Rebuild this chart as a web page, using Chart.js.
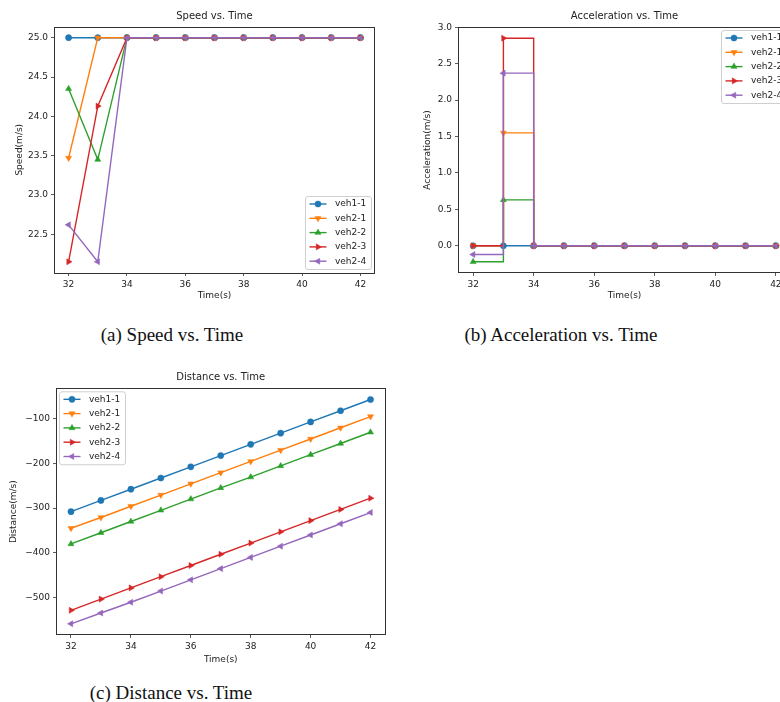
<!DOCTYPE html>
<html>
<head>
<meta charset="utf-8">
<script src="https://cdn.jsdelivr.net/npm/chart.js@4.4.0/dist/chart.umd.min.js"></script>
<style>
  html, body { margin: 0; padding: 0; background: #fff; overflow: hidden; }
  body { width: 780px; height: 702px; position: relative; }
  .panel { position: absolute; }
  .panel canvas { display: block; }
  .cap { position: absolute; width: 240px; font-family: "Liberation Serif", serif; font-size: 19px;
         line-height: 20px; color: #111; text-align: center; white-space: nowrap; }
</style>
</head>
<body>
<div class="panel" style="left:0;top:0"><canvas id="speed" width="390" height="320"></canvas></div>
<div class="panel" style="left:390px;top:0"><canvas id="accel" width="410" height="320"></canvas></div>
<div class="panel" style="left:0;top:360px"><canvas id="dist" width="390" height="320"></canvas></div>
<div class="cap" style="left:52px;top:325px">(a) Speed vs. Time</div>
<div class="cap" style="left:441px;top:325px">(b) Acceleration vs. Time</div>
<div class="cap" style="left:51px;top:683px">(c) Distance vs. Time</div>
<script>
// time axis and vehicles
const times = [32, 33, 34, 35, 36, 37, 38, 39, 40, 41, 42];
const timeTicks = [32, 34, 36, 38, 40, 42];
const vehicles = ['veh1-1', 'veh2-1', 'veh2-2', 'veh2-3', 'veh2-4'];

// speed (m/s)
const speedVeh11 = [25.0, 25.0, 25.0, 25.0, 25.0, 25.0, 25.0, 25.0, 25.0, 25.0, 25.0];
const speedVeh21 = [23.47, 25.0, 25.0, 25.0, 25.0, 25.0, 25.0, 25.0, 25.0, 25.0, 25.0];
const speedVeh22 = [24.35, 23.45, 25.0, 25.0, 25.0, 25.0, 25.0, 25.0, 25.0, 25.0, 25.0];
const speedVeh23 = [22.15, 24.13, 25.0, 25.0, 25.0, 25.0, 25.0, 25.0, 25.0, 25.0, 25.0];
const speedVeh24 = [22.62, 22.15, 25.0, 25.0, 25.0, 25.0, 25.0, 25.0, 25.0, 25.0, 25.0];
const speedTicks = [22.5, 23.0, 23.5, 24.0, 24.5, 25.0];

// acceleration
const accVeh11 = [0, 0, 0, 0, 0, 0, 0, 0, 0, 0, 0];
const accVeh21 = [0, 1.55, 0, 0, 0, 0, 0, 0, 0, 0, 0];
const accVeh22 = [-0.22, 0.63, 0, 0, 0, 0, 0, 0, 0, 0, 0];
const accVeh23 = [0, 2.85, 0, 0, 0, 0, 0, 0, 0, 0, 0];
const accVeh24 = [-0.12, 2.37, 0, 0, 0, 0, 0, 0, 0, 0, 0];
const accTicks = [0.0, 0.5, 1.0, 1.5, 2.0, 2.5, 3.0];

// distance
const distVeh11 = [-308, -283, -258, -233, -208, -183, -158, -133, -108, -83, -58];
const distVeh21 = [-345, -321, -296, -271, -246, -221, -196, -171, -146, -121, -96];
const distVeh22 = [-380, -355, -330, -305, -280, -255, -231, -206, -181, -156, -131];
const distVeh23 = [-528, -503, -478, -453, -428, -403, -378, -353, -328, -303, -278];
const distVeh24 = [-558, -534, -510, -485, -460, -435, -410, -385, -360, -335, -310];
const distTicks = [-500, -400, -300, -200, -100];

const colors = ['#1f77b4', '#ff7f0e', '#2ca02c', '#d62728', '#9467bd'];
const markers = [['circle', 0], ['triangle', 180], ['triangle', 0], ['triangle', 90], ['triangle', 270]];
const FONT = 'DejaVu Sans';
const TXT = '#222';

// matplotlib-ish frame, legend and title
const mplDecor = {
  id: 'mplDecor',
  afterDatasetsDraw(chart, args, opts) {
    const ctx = chart.ctx, a = chart.chartArea;
    ctx.save();
    ctx.strokeStyle = '#333';
    ctx.lineWidth = 1;
    ctx.strokeRect(Math.round(a.left) + 0.5, Math.round(a.top) + 0.5,
      Math.round(a.right - a.left) - 1, Math.round(a.bottom - a.top) - 1);

    // legend
    const w = 66, h = 73, pad = 3.5;
    const bx = opts.corner.includes('right') ? a.right - pad - w : a.left + pad;
    const by = opts.corner.includes('lower') ? a.bottom - pad - h : a.top + pad;
    ctx.beginPath();
    if (ctx.roundRect) ctx.roundRect(bx, by, w, h, 2.5); else ctx.rect(bx, by, w, h);
    ctx.fillStyle = 'rgba(255,255,255,0.8)';
    ctx.fill();
    ctx.strokeStyle = '#cfcfcf';
    ctx.lineWidth = 1;
    ctx.stroke();
    ctx.font = '9px "' + FONT + '"';
    ctx.textBaseline = 'middle';
    chart.data.datasets.forEach((ds, i) => {
      const y = by + 7.5 + i * 14.3;
      ctx.strokeStyle = ds.borderColor;
      ctx.lineWidth = ds.borderWidth;
      ctx.beginPath();
      ctx.moveTo(bx + 4, y);
      ctx.lineTo(bx + 21, y);
      ctx.stroke();
      ctx.fillStyle = ds.pointBackgroundColor;
      ctx.strokeStyle = ds.pointBorderColor;
      ctx.lineWidth = ds.pointBorderWidth;
      Chart.helpers.drawPoint(ctx, {
        pointStyle: ds.pointStyle, rotation: ds.pointRotation,
        radius: ds.pointRadius, borderWidth: ds.pointBorderWidth
      }, bx + 12.5, y);
      ctx.fillStyle = TXT;
      ctx.textAlign = 'left';
      ctx.fillText(ds.label, bx + 29.5, y);
    });

    // title
    ctx.font = '10px "' + FONT + '"';
    ctx.fillStyle = TXT;
    ctx.textAlign = 'center';
    ctx.fillText(opts.title, (a.left + a.right) / 2, a.top - 10.5);
    ctx.restore();
  }
};

function makeChart(id, cfg) {
  const canvas = document.getElementById(id);
  const W = canvas.width, H = canvas.height, A = cfg.area;
  const datasets = cfg.series.map((vals, i) => ({
    label: vehicles[i],
    data: times.map((t, k) => ({ x: t, y: vals[k] })),
    borderColor: colors[i],
    backgroundColor: colors[i],
    borderWidth: 1.4,
    pointStyle: markers[i][0],
    pointRotation: markers[i][1],
    pointRadius: markers[i][0] === 'circle' ? 3.1 : 3.5,
    pointBackgroundColor: colors[i],
    pointBorderColor: colors[i],
    pointBorderWidth: 0.5,
    stepped: cfg.stepped ? 'before' : false,
    tension: 0,
    order: 5 - i
  }));
  new Chart(canvas, {
    type: 'line',
    data: { datasets },
    plugins: [mplDecor],
    options: {
      responsive: false,
      animation: false,
      devicePixelRatio: 1,
      events: [],
      layout: { padding: { left: 0, top: A.top, right: W - A.right, bottom: 0 } },
      plugins: {
        legend: { display: false },
        tooltip: { enabled: false },
        mplDecor: { corner: cfg.corner, title: cfg.title }
      },
      scales: {
        x: {
          type: 'linear', min: 31.5, max: 42.5,
          afterBuildTicks: s => { s.ticks = timeTicks.map(v => ({ value: v })); },
          afterFit: s => { s.height = H - A.bottom; },
          grid: { drawOnChartArea: false, drawTicks: true, tickLength: 3, color: '#333', lineWidth: 0.8 },
          border: { display: false },
          ticks: { color: TXT, font: { family: FONT, size: 9 }, padding: 3, maxRotation: 0, autoSkip: false,
                   callback: v => String(v) },
          title: { display: true, text: 'Time(s)', color: TXT, font: { family: FONT, size: 9 },
                   padding: { top: 0, bottom: H - 5.4 - cfg.xTitleY } }
        },
        y: {
          type: 'linear', min: cfg.yMin, max: cfg.yMax,
          afterBuildTicks: s => { s.ticks = cfg.yTicks.map(v => ({ value: v })); },
          afterFit: s => { s.width = A.left; },
          grid: { drawOnChartArea: false, drawTicks: true, tickLength: 3, color: '#333', lineWidth: 0.8 },
          border: { display: false },
          ticks: { color: TXT, font: { family: FONT, size: 9 }, padding: 3, autoSkip: false,
                   callback: cfg.fmt },
          title: { display: true, text: cfg.yLabel, color: TXT, font: { family: FONT, size: 9 },
                   padding: { top: cfg.yTitleX - 5.4, bottom: 0 } }
        }
      }
    }
  });
}

makeChart('speed', {
  series: [speedVeh11, speedVeh21, speedVeh22, speedVeh23, speedVeh24],
  title: 'Speed vs. Time', yLabel: 'Speed(m/s)',
  yTicks: speedTicks, yMin: 22.0075, yMax: 25.1425, fmt: v => v.toFixed(1),
  stepped: false, corner: 'lower right',
  area: { left: 54, top: 26.5, right: 375, bottom: 273 }, yTitleX: 19.3, xTitleY: 296
});

makeChart('accel', {
  series: [accVeh11, accVeh21, accVeh22, accVeh23, accVeh24],
  title: 'Acceleration vs. Time', yLabel: 'Acceleration(m/s)',
  yTicks: accTicks, yMin: -0.3735, yMax: 3.0035, fmt: v => v.toFixed(1),
  stepped: true, corner: 'upper right',
  area: { left: 68, top: 27, right: 401, bottom: 273 }, yTitleX: 38, xTitleY: 296
});

makeChart('dist', {
  series: [distVeh11, distVeh21, distVeh22, distVeh23, distVeh24],
  title: 'Distance vs. Time', yLabel: 'Distance(m/s)',
  yTicks: distTicks, yMin: -583, yMax: -33, fmt: v => (v < 0 ? '\u2212' : '') + Math.abs(v),
  stepped: false, corner: 'upper left',
  area: { left: 56, top: 28.3, right: 389, bottom: 275 }, yTitleX: 13.3, xTitleY: 300
});
</script>
</body>
</html>
